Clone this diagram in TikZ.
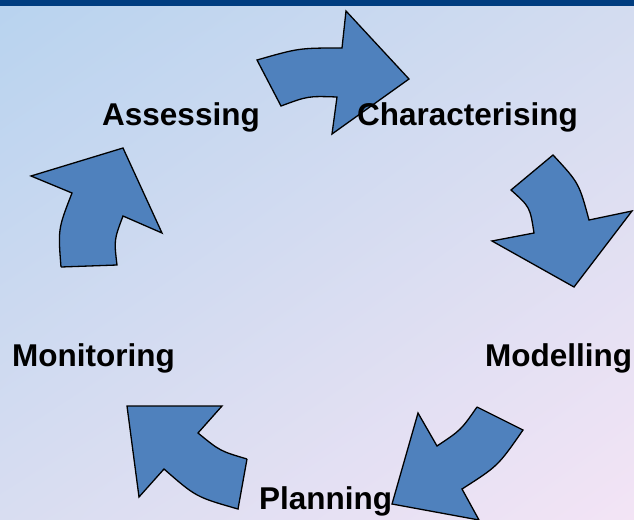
\documentclass[tikz,border=0pt]{standalone}
\usepackage{fontspec}
\setmainfont{Liberation Sans}
\usetikzlibrary{positioning,shadings}
\definecolor{arrowblue}{HTML}{4F81BD}
\definecolor{barblue}{HTML}{003D80}
\definecolor{bgtl}{HTML}{B8D3EF}
\definecolor{bgtr}{HTML}{D3DCF0}
\definecolor{bgbl}{HTML}{D8DDF1}
\definecolor{bgbr}{HTML}{F3E4F5}
\tikzstyle{barrow} = [draw=black, fill=arrowblue, line width=1.3pt, line join=miter]
\tikzstyle{stage} = [inner sep=0pt, anchor=base west, font=\fontsize{31.5}{37}\selectfont\bfseries]

\begin{document}
\begin{tikzpicture}[x=1pt, y=-1pt]
    \useasboundingbox (0,0) rectangle (634,519);
    \shade [upper left=bgtl, upper right=bgtr, lower left=bgbl, lower right=bgbr] (0,0) rectangle (634,519);
    \fill [barblue] (0,0) rectangle (634,6);

    % cycle arrows
    \draw [barrow] (257,60) .. controls (299,48) .. (342,48) -- (346,11) -- (409,79)
        -- (332,134) -- (337,97) .. controls (308,96) .. (281,106) -- cycle;
    \draw [barrow] (553,155) .. controls (579,183) .. (589,220) -- (632,211) -- (574,287)
        -- (492,241) -- (534,233) .. controls (530,207) .. (511,190) -- cycle;
    \draw [barrow] (477,407) -- (523,430) .. controls (498,466) .. (462,489) -- (479,520)
        -- (392,504) -- (418,413) -- (437,446) .. controls (461,430) .. (477,407);
    \draw [barrow] (247,459) -- (238,509) .. controls (196,497) .. (164,469) -- (139,497)
        -- (127,406) -- (222,406) -- (198,433) .. controls (220,451) .. (247,459);
    \draw [barrow] (61,267) -- (117,265) .. controls (114,240) .. (123,216) -- (162,233)
        -- (123,148) -- (31,176) -- (72,193) .. controls (58,229) .. (61,267);

    % stages
    \node [stage] (ass) at (102,125) {Assessing};
    \node [stage] (cha) at (357,125) {Characterising};
    \node [stage] (mod) at (485,366) {Modelling};
    \node [stage] (pla) at (259,509) {Planning};
    \node [stage] (mon) at (12,366) {Monitoring};
\end{tikzpicture}
\end{document}
